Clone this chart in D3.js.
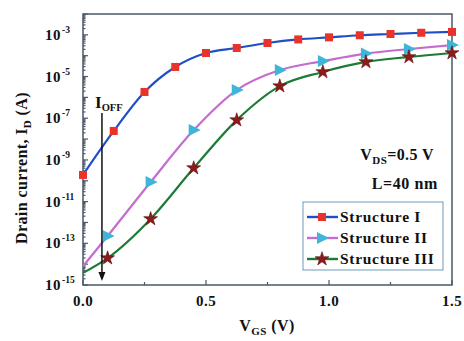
<!DOCTYPE html>
<html><head><meta charset="utf-8">
<script src="https://cdn.jsdelivr.net/npm/d3@7"></script>
<style>body{margin:0;background:#fff}svg{display:block}text{font-family:"Liberation Serif","Times New Roman",serif;font-weight:bold;fill:#111}</style>
</head><body><svg id="c" width="464" height="341"></svg>
<script>
// Data: V_GS (V) and log10(I_D / A)
const s1X = [0,0.125,0.25,0.375,0.5,0.625,0.75,0.875,1.0,1.125,1.25,1.375,1.5];
const s1Y = [-9.72,-7.61,-5.74,-4.54,-3.87,-3.63,-3.39,-3.22,-3.12,-3.02,-2.96,-2.9,-2.86];
const s2X = [0,0.1,0.275,0.45,0.625,0.8,0.975,1.15,1.325,1.5];
const s2Y = [-14.1,-12.65,-10.06,-7.57,-5.65,-4.69,-4.26,-3.9,-3.68,-3.49];
const s3X = [0,0.1,0.275,0.45,0.625,0.8,0.975,1.15,1.325,1.5];
const s3Y = [-14.42,-13.71,-11.83,-9.39,-7.09,-5.46,-4.78,-4.3,-4.06,-3.87];
const seriesNames = ["Structure I","Structure II","Structure III"];
const xTicks = [0,0.5,1.0,1.5];
const xTickLabels = ["0.0","0.5","1.0","1.5"];
const yTickExps = [-15,-13,-11,-9,-7,-5,-3];
const ioffX = 0.077;

const svg = d3.select("#c");
const L=83,R=452,T=14,B=285;
const x = d3.scaleLinear().domain([0,1.5]).range([L,R]);
const y = d3.scaleLog().domain([1e-15,1e-2]).range([B,T]);
const axisCol="#4a5868";

// frame
svg.append("rect").attr("x",L).attr("y",T).attr("width",R-L).attr("height",B-T)
  .attr("fill","none").attr("stroke",axisCol).attr("stroke-width",1.5);

// y ticks (inward)
const yg = svg.append("g");
for(let e=-15;e<-2;e++){
  for(let m=1;m<10;m++){
    const v=m*Math.pow(10,e);
    const len = m===1?5:2.5;
    yg.append("line").attr("x1",L).attr("x2",L+len).attr("y1",y(v)).attr("y2",y(v))
      .attr("stroke",axisCol).attr("stroke-width",1.2);
  }
}
yg.append("line").attr("x1",L).attr("x2",L+5).attr("y1",y(1e-2)).attr("y2",y(1e-2)).attr("stroke",axisCol);
yTickExps.forEach(e=>{
  yg.append("text").attr("x",L-22).attr("y",y(Math.pow(10,e))+5)
    .attr("text-anchor","end").attr("font-size",15).attr("letter-spacing",0.5).text("10");
  yg.append("text").attr("x",L-21).attr("y",y(Math.pow(10,e))-2).attr("font-size",9.5).text(String(e));
});
// x ticks
const xg=svg.append("g");
d3.range(0,1.51,0.25).forEach(v=>{
  xg.append("line").attr("x1",x(v)).attr("x2",x(v)).attr("y1",B).attr("y2",B-(Math.abs(v*2-Math.round(v*2))<1e-6?5:3))
    .attr("stroke",axisCol).attr("stroke-width",1.2);
});
xTicks.forEach((v,i)=>{
  xg.append("text").attr("x",x(v)).attr("y",B+21).attr("text-anchor","middle").attr("font-size",15).attr("letter-spacing",0.5).text(xTickLabels[i]);
});

// axis titles
const yl = svg.append("text").attr("transform","translate(27,168) rotate(-90)").attr("text-anchor","middle").attr("font-size",16).attr("letter-spacing",0.4);
yl.append("tspan").text("Drain current, I");
yl.append("tspan").attr("font-size",11).attr("dy",4).text("D");
yl.append("tspan").attr("dy",-4).text(" (A)");
const xl = svg.append("text").attr("x",267).attr("y",331).attr("text-anchor","middle").attr("font-size",16).attr("letter-spacing",0.4);
xl.append("tspan").text("V");
xl.append("tspan").attr("font-size",11).attr("dy",4).text("GS");
xl.append("tspan").attr("dy",-4).text(" (V)");

// lines
const line = d3.line().x(d=>x(d[0])).y(d=>y(Math.pow(10,d[1]))).curve(d3.curveMonotoneX);
const zip=(a,b)=>a.map((v,i)=>[v,b[i]]);
const d1=zip(s1X,s1Y), d2=zip(s2X,s2Y), d3d=zip(s3X,s3Y);
const cols=[{line:"#1f4fc4",mk:"#e8322a"},{line:"#c46cd0",mk:"#3fb6d8"},{line:"#1d7a37",mk:"#8e1a1a"}];
svg.append("path").attr("d",line(d1)).attr("fill","none").attr("stroke",cols[0].line).attr("stroke-width",2.2);
svg.append("path").attr("d",line(d2)).attr("fill","none").attr("stroke",cols[1].line).attr("stroke-width",2.2);
svg.append("path").attr("d",line(d3d)).attr("fill","none").attr("stroke",cols[2].line).attr("stroke-width",2.2);

function square(g,cx,cy){g.append("rect").attr("x",cx-4).attr("y",cy-4).attr("width",8).attr("height",8).attr("fill",cols[0].mk);}
function tri(g,cx,cy){g.append("path").attr("d",`M${cx-5},${cy-6}L${cx+7},${cy}L${cx-5},${cy+6}Z`).attr("fill",cols[1].mk);}
const starPath = d3.symbol().type(d3.symbolStar).size(60);
function star(g,cx,cy){g.append("path").attr("d",starPath()).attr("transform",`translate(${cx},${cy})`).attr("fill",cols[2].mk).attr("stroke","#5a1010").attr("stroke-width",0.6);}
const mg=svg.append("g");
d1.forEach(d=>square(mg,x(d[0]),y(Math.pow(10,d[1]))));
d2.slice(1).forEach(d=>tri(mg,x(d[0]),y(Math.pow(10,d[1]))));
d3d.slice(1).forEach(d=>star(mg,x(d[0]),y(Math.pow(10,d[1]))));

// I_OFF arrow
const ax=x(ioffX);
svg.append("line").attr("x1",ax).attr("x2",ax).attr("y1",113).attr("y2",274).attr("stroke","#111").attr("stroke-width",1.5);
svg.append("path").attr("d",`M${ax-3.5},${272}L${ax+3.5},${272}L${ax},${281}Z`).attr("fill","#111");
const io=svg.append("text").attr("x",95).attr("y",108).attr("font-size",17);
io.append("tspan").text("I");
io.append("tspan").attr("font-size",10.5).attr("dy",3).text("OFF");

// annotations
const vd=svg.append("text").attr("x",434).attr("y",160).attr("text-anchor","end").attr("font-size",16).attr("letter-spacing",0.4);
vd.append("tspan").text("V");
vd.append("tspan").attr("font-size",11).attr("dy",4).text("DS");
vd.append("tspan").attr("dy",-4).text("=0.5 V");
svg.append("text").attr("x",438).attr("y",189).attr("text-anchor","end").attr("font-size",16).attr("letter-spacing",0.6).text("L=40 nm");

// legend
const lg=svg.append("g");
lg.append("rect").attr("x",303).attr("y",202).attr("width",140).attr("height",68).attr("fill","#fff").attr("stroke","#6a9ab8").attr("stroke-width",1);
const rowsY=[217,238,259];
const mkFns=[square,tri,star];
seriesNames.forEach((n,i)=>{
  lg.append("line").attr("x1",307).attr("x2",338).attr("y1",rowsY[i]).attr("y2",rowsY[i]).attr("stroke",cols[i].line).attr("stroke-width",2.4);
  mkFns[i](lg,322,rowsY[i]);
  lg.append("text").attr("x",340).attr("y",rowsY[i]+5).attr("font-size",15.5).attr("letter-spacing",0.7).text(n);
});
</script></body></html>
